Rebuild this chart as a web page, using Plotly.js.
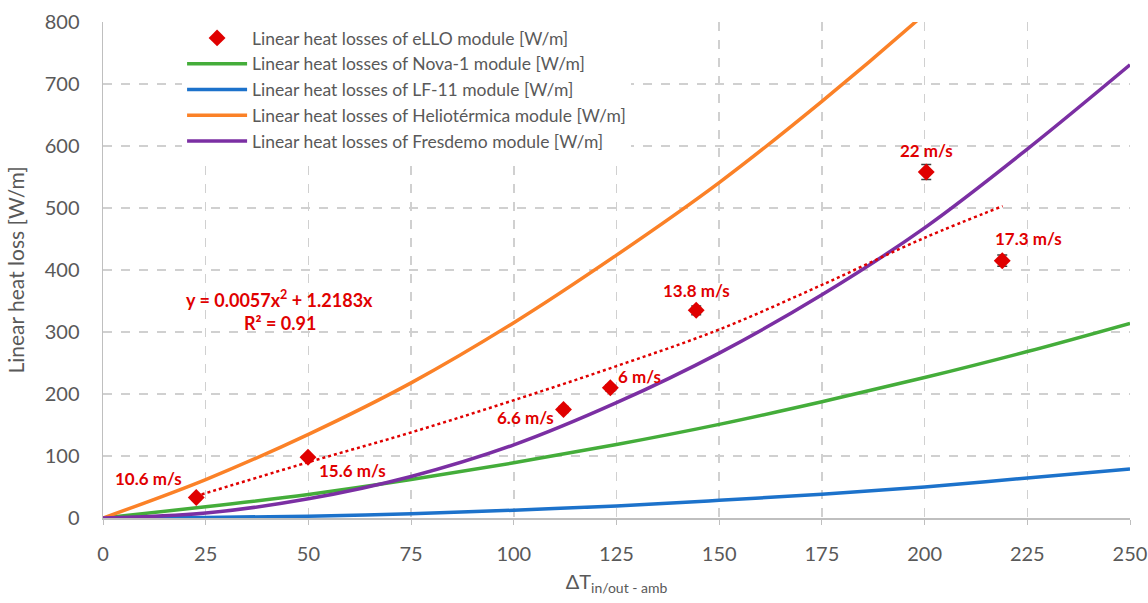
<!DOCTYPE html>
<html>
<head>
<meta charset="utf-8">
<script src="https://cdn.plot.ly/plotly-3.0.1.min.js"></script>
<style>html,body{margin:0;padding:0;background:#fff;}#chart{width:1148px;height:603px;}</style>
</head>
<body>
<div id="chart"></div>
<script>
// eLLO measured points
const elloX = [22.7, 49.9, 112.1, 123.5, 144.4, 200.4, 218.9];
const elloY = [33, 98, 175, 210, 335, 558, 415];
const elloErr = [4, 4, 5, 5, 7, 12, 9];
const elloLabels = ["10.6 m/s", "15.6 m/s", "6.6 m/s", "6 m/s", "13.8 m/s", "22 m/s", "17.3 m/s"];
const labelDx = [-48, 45, -38, 29, 0, 0, 26];
const labelDy = [19, -13, -8, 11, 20, 22, 22];

// trend line
const trendX = [24, 50, 75, 100, 125, 150, 175, 200, 219];
const trendY = [38, 90, 138, 190, 245, 304, 376, 452, 503];

// module curves
const curveX = [0, 25, 50, 75, 100, 125, 150, 175, 200, 225, 250];
const nova1 = [0, 18, 38, 62, 89, 118.5, 151, 187.5, 226.5, 268.5, 314];
const lf11 = [0, 1, 3, 7, 12.6, 19.5, 28.5, 38.5, 50, 64.5, 79];
const helio = [0, 62, 135, 218, 315, 424, 541, 672, 813, 965, 1130];
const fresdemo = [0, 8, 31, 67, 118, 186, 266, 360, 468, 595, 731];

const font = "Lato, 'Open Sans', sans-serif";
const gray = "#595959";
const red = "#e00000";

const traces = [
  {x: elloX, y: elloY, mode: "markers", type: "scatter",
   name: "Linear heat losses of eLLO module [W/m]",
   marker: {symbol: "diamond", size: 13, color: red},
   error_y: {type: "data", array: elloErr, visible: true, color: "#404040", thickness: 1.5, width: 5}},
  {x: curveX, y: nova1, mode: "lines", type: "scatter", line: {color: "#44ad3a", width: 3.5, shape: "spline"},
   name: "Linear heat losses of Nova-1 module [W/m]"},
  {x: curveX, y: lf11, mode: "lines", type: "scatter", line: {color: "#1c72cb", width: 3.5, shape: "spline"},
   name: "Linear heat losses of LF-11 module [W/m]"},
  {x: curveX, y: helio, mode: "lines", type: "scatter", line: {color: "#fb8127", width: 3.5, shape: "spline"},
   name: "Linear heat losses of Heliotérmica module [W/m]"},
  {x: curveX, y: fresdemo, mode: "lines", type: "scatter", line: {color: "#7b2fa3", width: 3.5, shape: "spline"},
   name: "Linear heat losses of Fresdemo module [W/m]"},
  {x: trendX, y: trendY, mode: "lines", type: "scatter", line: {color: red, width: 2.5, dash: "dot", shape: "spline"},
   showlegend: false, hoverinfo: "skip"}
];

const annotations = elloLabels.map((t, i) => ({
  x: elloX[i], y: elloY[i], xref: "x", yref: "y", text: "<b>" + t + "</b>",
  showarrow: false, xshift: labelDx[i], yshift: labelDy[i],
  font: {family: font, size: 17, color: red}
}));
annotations.push({x: 43, y: 354, xref: "x", yref: "y", text: "<b>y = 0.0057x<sup>2</sup> + 1.2183x</b>",
  showarrow: false, font: {family: font, size: 18, color: red}});
annotations.push({x: 43, y: 314, xref: "x", yref: "y", text: "<b>R² = 0.91</b>",
  showarrow: false, font: {family: font, size: 18, color: red}});

const layout = {
  width: 1148, height: 603,
  margin: {l: 103, r: 18, t: 22, b: 85},
  paper_bgcolor: "#fff", plot_bgcolor: "#fff",
  font: {family: font, color: gray},
  showlegend: true,
  legend: {x: 0.077, y: 1.004, xanchor: "left", yanchor: "top", bgcolor: "#fff",
    font: {family: font, size: 17.5, color: gray}, tracegroupgap: 0, itemwidth: 60},
  xaxis: {range: [0, 250], tickvals: [0,25,50,75,100,125,150,175,200,225,250],
    showgrid: true, gridcolor: "#d0d0d0", griddash: "dash", gridwidth: 1.5,
    showline: true, linecolor: "#bfbfbf", linewidth: 1.5, zeroline: false,
    ticks: "outside", ticklen: 5, tickcolor: "#bfbfbf", ticklabelstandoff: 12,
    tickfont: {family: font, size: 20, color: gray},
    title: {text: "ΔT<sub>in/out - amb</sub>", font: {family: font, size: 20, color: gray}, standoff: 11}},
  yaxis: {range: [0, 800], dtick: 100,
    showgrid: true, gridcolor: "#d0d0d0", griddash: "dash", gridwidth: 1.5,
    showline: true, linecolor: "#bfbfbf", linewidth: 1.5, zeroline: false,
    ticks: "", ticklabelstandoff: 18,
    tickfont: {family: font, size: 20, color: gray},
    title: {text: "Linear heat loss [W/m]", font: {family: font, size: 21, color: gray}, standoff: 14}},
  annotations: annotations
};

Plotly.newPlot("chart", traces, layout, {displayModeBar: false, staticPlot: true});
</script>
</body>
</html>
